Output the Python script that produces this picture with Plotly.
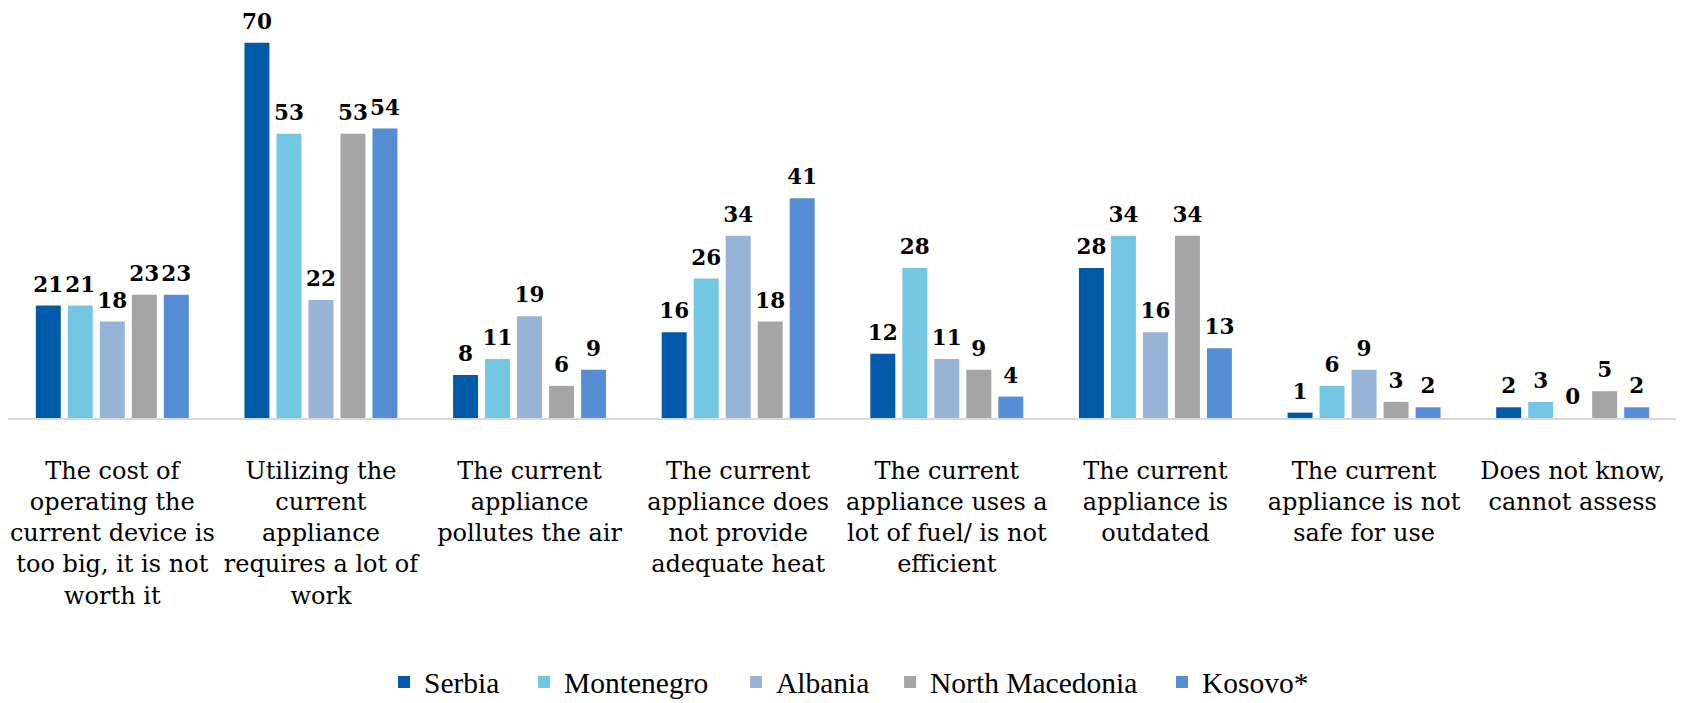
import plotly.graph_objects as go

categories = [
    "The cost of<br>operating the<br>current device is<br>too big, it is not<br>worth it",
    "Utilizing the<br>current<br>appliance<br>requires a lot of<br>work",
    "The current<br>appliance<br>pollutes the air",
    "The current<br>appliance does<br>not provide<br>adequate heat",
    "The current<br>appliance uses a<br>lot of fuel/ is not<br>efficient",
    "The current<br>appliance is<br>outdated",
    "The current<br>appliance is not<br>safe for use",
    "Does not know,<br>cannot assess",
]

serbia = [21, 70, 8, 16, 12, 28, 1, 2]
montenegro = [21, 53, 11, 26, 28, 34, 6, 3]
albania = [18, 22, 19, 34, 11, 16, 9, 0]
north_macedonia = [23, 53, 6, 18, 9, 34, 3, 5]
kosovo = [23, 54, 9, 41, 4, 13, 2, 2]

series_names = ["Serbia", "Montenegro", "Albania", "North Macedonia", "Kosovo*"]
series_values = [serbia, montenegro, albania, north_macedonia, kosovo]
colors = ["#005AA7", "#74C7E3", "#97B3D6", "#A5A5A5", "#558ED5"]
legend_x = [0.2253, 0.3092, 0.4362, 0.5285, 0.6914]

LABEL_FONT = "DejaVu Serif"
LEGEND_FONT = "Liberation Serif"
BARGAP = 0.233

fig = go.Figure()
for i, (name, vals, color) in enumerate(zip(series_names, series_values, colors)):
    lg = "legend" if i == 0 else f"legend{i + 1}"
    fig.add_trace(go.Bar(
        name=name, x=categories, y=vals,
        marker=dict(color=color, line=dict(width=0)),
        legend=lg, hoverinfo="x+y+name",
    ))
for i, (name, vals) in enumerate(zip(series_names, series_values)):
    fig.add_trace(go.Scatter(
        name=name, x=categories, y=vals, mode="markers+text",
        marker=dict(size=12, color="rgba(0,0,0,0)"),
        text=[str(v) for v in vals], textposition="top center",
        textfont=dict(family=LABEL_FONT, size=21.5, color="#000000", weight="bold"),
        showlegend=False, cliponaxis=False, hoverinfo="skip",
    ))

layout_legends = {}
for i, lx in enumerate(legend_x):
    key = "legend" if i == 0 else f"legend{i + 1}"
    layout_legends[key] = dict(
        orientation="h", x=lx, xanchor="left", y=-0.6845, yanchor="middle",
        font=dict(family=LEGEND_FONT, size=29.5, color="#000000"),
        itemwidth=30, bgcolor="rgba(0,0,0,0)", borderwidth=0,
    )

fig.update_layout(
    width=1684, height=703,
    paper_bgcolor="white", plot_bgcolor="white",
    margin=dict(l=0, r=15, t=24, b=293, autoexpand=False),
    barmode="group", bargap=BARGAP, bargroupgap=0.22,
    scattermode="group", scattergap=BARGAP,
    font=dict(family=LABEL_FONT, size=24, color="#000000"),
    showlegend=True,
    **layout_legends,
)
fig.update_xaxes(showline=True, linecolor="#D9D9D9", linewidth=2,
                 ticks="outside", ticklen=30, tickcolor="rgba(0,0,0,0)",
                 tickangle=0,
                 tickfont=dict(family=LABEL_FONT, size=24, color="#000000"),
                 showgrid=False, zeroline=False, automargin=False)
fig.update_yaxes(range=[0, 72], visible=False, showgrid=False, zeroline=False)

fig.write_html("out.html")
